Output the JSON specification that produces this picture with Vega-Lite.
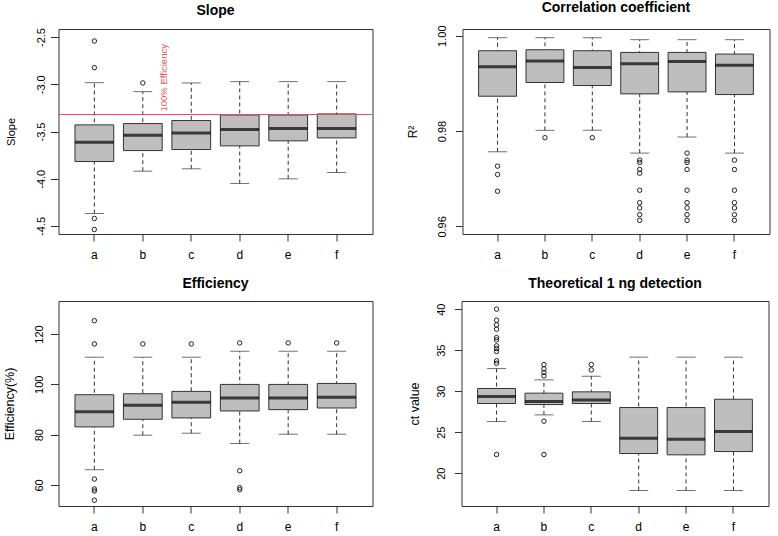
{
  "$schema": "https://vega.github.io/schema/vega-lite/v6.json",
  "background": "white",
  "padding": {"left": 2.5, "top": 0, "right": 5, "bottom": 5},
  "datasets": {
    "boxes": [
      {"panel": "slope", "group": "a", "lower": -4.368, "q1": -3.818, "median": -3.613, "q3": -3.430, "upper": -2.983},
      {"panel": "slope", "group": "b", "lower": -3.920, "q1": -3.702, "median": -3.539, "q3": -3.416, "upper": -3.078},
      {"panel": "slope", "group": "c", "lower": -3.895, "q1": -3.691, "median": -3.515, "q3": -3.384, "upper": -2.986},
      {"panel": "slope", "group": "d", "lower": -4.050, "q1": -3.652, "median": -3.480, "q3": -3.325, "upper": -2.972},
      {"panel": "slope", "group": "e", "lower": -4.001, "q1": -3.599, "median": -3.469, "q3": -3.325, "upper": -2.972},
      {"panel": "slope", "group": "f", "lower": -3.934, "q1": -3.568, "median": -3.469, "q3": -3.314, "upper": -2.972},
      {"panel": "corr", "group": "a", "lower": 0.97565, "q1": 0.98730, "median": 0.99347, "q3": 0.99684, "upper": 0.99958},
      {"panel": "corr", "group": "b", "lower": 0.98014, "q1": 0.99018, "median": 0.99467, "q3": 0.99705, "upper": 0.99958},
      {"panel": "corr", "group": "c", "lower": 0.98014, "q1": 0.98954, "median": 0.99333, "q3": 0.99684, "upper": 0.99958},
      {"panel": "corr", "group": "d", "lower": 0.97537, "q1": 0.98779, "median": 0.99411, "q3": 0.99649, "upper": 0.99916},
      {"panel": "corr", "group": "e", "lower": 0.97874, "q1": 0.98821, "median": 0.99460, "q3": 0.99649, "upper": 0.99916},
      {"panel": "corr", "group": "f", "lower": 0.97537, "q1": 0.98765, "median": 0.99382, "q3": 0.99614, "upper": 0.99916},
      {"panel": "eff", "group": "a", "lower": 66.06, "q1": 83.08, "median": 89.14, "q3": 95.87, "upper": 110.77},
      {"panel": "eff", "group": "b", "lower": 79.78, "q1": 86.11, "median": 91.65, "q3": 96.26, "upper": 110.77},
      {"panel": "eff", "group": "c", "lower": 80.57, "q1": 86.64, "median": 92.83, "q3": 97.19, "upper": 110.77},
      {"panel": "eff", "group": "d", "lower": 76.48, "q1": 89.41, "median": 94.55, "q3": 99.96, "upper": 113.14},
      {"panel": "eff", "group": "e", "lower": 80.17, "q1": 89.93, "median": 94.55, "q3": 99.96, "upper": 113.14},
      {"panel": "eff", "group": "f", "lower": 80.17, "q1": 90.59, "median": 94.81, "q3": 100.35, "upper": 113.14},
      {"panel": "ct", "group": "a", "lower": 26.30, "q1": 28.50, "median": 29.35, "q3": 30.33, "upper": 32.76},
      {"panel": "ct", "group": "b", "lower": 27.11, "q1": 28.37, "median": 28.74, "q3": 29.76, "upper": 31.38},
      {"panel": "ct", "group": "c", "lower": 26.30, "q1": 28.50, "median": 28.94, "q3": 29.92, "upper": 31.83},
      {"panel": "ct", "group": "d", "lower": 17.89, "q1": 22.40, "median": 24.27, "q3": 28.01, "upper": 34.15},
      {"panel": "ct", "group": "e", "lower": 17.89, "q1": 22.24, "median": 24.15, "q3": 28.01, "upper": 34.15},
      {"panel": "ct", "group": "f", "lower": 17.89, "q1": 22.64, "median": 25.08, "q3": 29.02, "upper": 34.15}
    ],
    "outliers": [
      {"panel": "slope", "group": "a", "value": -2.542},
      {"panel": "slope", "group": "a", "value": -2.824},
      {"panel": "slope", "group": "a", "value": -4.420},
      {"panel": "slope", "group": "a", "value": -4.537},
      {"panel": "slope", "group": "b", "value": -2.986},
      {"panel": "corr", "group": "a", "value": 0.97263},
      {"panel": "corr", "group": "a", "value": 0.97088},
      {"panel": "corr", "group": "a", "value": 0.96737},
      {"panel": "corr", "group": "b", "value": 0.97860},
      {"panel": "corr", "group": "c", "value": 0.97860},
      {"panel": "corr", "group": "d", "value": 0.97389},
      {"panel": "corr", "group": "d", "value": 0.97340},
      {"panel": "corr", "group": "d", "value": 0.97193},
      {"panel": "corr", "group": "d", "value": 0.97116},
      {"panel": "corr", "group": "d", "value": 0.96758},
      {"panel": "corr", "group": "d", "value": 0.96498},
      {"panel": "corr", "group": "d", "value": 0.96386},
      {"panel": "corr", "group": "d", "value": 0.96246},
      {"panel": "corr", "group": "d", "value": 0.96126},
      {"panel": "corr", "group": "e", "value": 0.97537},
      {"panel": "corr", "group": "e", "value": 0.97389},
      {"panel": "corr", "group": "e", "value": 0.97340},
      {"panel": "corr", "group": "e", "value": 0.97193},
      {"panel": "corr", "group": "e", "value": 0.96758},
      {"panel": "corr", "group": "e", "value": 0.96498},
      {"panel": "corr", "group": "e", "value": 0.96386},
      {"panel": "corr", "group": "e", "value": 0.96246},
      {"panel": "corr", "group": "e", "value": 0.96126},
      {"panel": "corr", "group": "f", "value": 0.97389},
      {"panel": "corr", "group": "f", "value": 0.97193},
      {"panel": "corr", "group": "f", "value": 0.96758},
      {"panel": "corr", "group": "f", "value": 0.96498},
      {"panel": "corr", "group": "f", "value": 0.96386},
      {"panel": "corr", "group": "f", "value": 0.96246},
      {"panel": "corr", "group": "f", "value": 0.96126},
      {"panel": "eff", "group": "a", "value": 125.27},
      {"panel": "eff", "group": "a", "value": 116.04},
      {"panel": "eff", "group": "a", "value": 62.37},
      {"panel": "eff", "group": "a", "value": 58.42},
      {"panel": "eff", "group": "a", "value": 57.62},
      {"panel": "eff", "group": "a", "value": 53.93},
      {"panel": "eff", "group": "b", "value": 116.04},
      {"panel": "eff", "group": "c", "value": 116.04},
      {"panel": "eff", "group": "d", "value": 116.44},
      {"panel": "eff", "group": "d", "value": 65.67},
      {"panel": "eff", "group": "d", "value": 58.94},
      {"panel": "eff", "group": "d", "value": 58.15},
      {"panel": "eff", "group": "e", "value": 116.44},
      {"panel": "eff", "group": "f", "value": 116.44},
      {"panel": "ct", "group": "a", "value": 40.0},
      {"panel": "ct", "group": "a", "value": 38.66},
      {"panel": "ct", "group": "a", "value": 38.09},
      {"panel": "ct", "group": "a", "value": 37.56},
      {"panel": "ct", "group": "a", "value": 36.54},
      {"panel": "ct", "group": "a", "value": 36.26},
      {"panel": "ct", "group": "a", "value": 35.53},
      {"panel": "ct", "group": "a", "value": 35.20},
      {"panel": "ct", "group": "a", "value": 34.84},
      {"panel": "ct", "group": "a", "value": 33.70},
      {"panel": "ct", "group": "a", "value": 33.41},
      {"panel": "ct", "group": "a", "value": 22.28},
      {"panel": "ct", "group": "b", "value": 33.25},
      {"panel": "ct", "group": "b", "value": 32.72},
      {"panel": "ct", "group": "b", "value": 32.28},
      {"panel": "ct", "group": "b", "value": 31.87},
      {"panel": "ct", "group": "b", "value": 26.34},
      {"panel": "ct", "group": "b", "value": 22.28},
      {"panel": "ct", "group": "c", "value": 33.25},
      {"panel": "ct", "group": "c", "value": 32.60}
    ],
    "refline": [{"slope": -3.32, "group": "b", "label": "100% Efficiency"}]
  },
  "spacing": 15,
  "vconcat": [
    {
      "spacing": 31,
      "hconcat": [
        {
          "title": "Slope",
          "width": 314, "height": 205,
          "layer": [
            {
              "data": {"name": "boxes"},
              "transform": [{"filter": "datum.panel === 'slope'"}],
              "encoding": {"x": {"field": "group", "type": "nominal", "scale": {"type": "band", "domain": ["a","b","c","d","e","f"], "paddingInner": 0.2, "paddingOuter": 0.34}, "axis": {"title": null, "labelAngle": 0, "tickSize": 7, "labelPadding": 8, "labelFontSize": 12, "domain": false, "grid": false}}},
              "layer": [
                {"mark": {"type": "rule", "strokeDash": [4, 3], "color": "#333", "strokeWidth": 1},
                 "encoding": {"y": {"field": "lower", "type": "quantitative", "title": "Slope", "scale": {"domain": [-4.585, -2.415], "nice": false, "zero": false}, "axis": {"values": [-4.5, -4, -3.5, -3, -2.5], "labelExpr": "datum.value < 0 ? '-' + format(-datum.value, '.1f') : format(datum.value, '.1f')", "labelAngle": -90, "labelAlign": "center", "labelBaseline": "bottom", "tickSize": 8, "labelPadding": 4.5, "minExtent": 25, "maxExtent": 25, "titlePadding": 17.5, "titleFontSize": 11, "domain": false, "grid": false}}, "y2": {"field": "upper"}}},
                {"mark": {"type": "tick", "size": 19, "thickness": 1, "color": "#333"},
                 "encoding": {"y": {"field": "lower", "type": "quantitative", "title": "Slope", "scale": {"domain": [-4.585, -2.415], "nice": false, "zero": false}}}},
                {"mark": {"type": "tick", "size": 19, "thickness": 1, "color": "#333"},
                 "encoding": {"y": {"field": "upper", "type": "quantitative", "title": "Slope", "scale": {"domain": [-4.585, -2.415], "nice": false, "zero": false}}}},
                {"mark": {"type": "bar", "fill": "#bebebe", "stroke": "#333", "strokeWidth": 1},
                 "encoding": {"y": {"field": "q1", "type": "quantitative", "title": "Slope", "scale": {"domain": [-4.585, -2.415], "nice": false, "zero": false}}, "y2": {"field": "q3"}}},
                {"mark": {"type": "tick", "size": 38.8, "thickness": 3, "color": "#000"},
                 "encoding": {"y": {"field": "median", "type": "quantitative", "title": "Slope", "scale": {"domain": [-4.585, -2.415], "nice": false, "zero": false}}}}
              ]
            },
            {
              "data": {"name": "outliers"},
              "transform": [{"filter": "datum.panel === 'slope'"}],
              "mark": {"type": "point", "filled": false, "size": 20, "color": "#222", "strokeWidth": 1, "opacity": 1},
              "encoding": {
                "x": {"field": "group", "type": "nominal", "scale": {"type": "band", "domain": ["a","b","c","d","e","f"], "paddingInner": 0.2, "paddingOuter": 0.34}},
                "y": {"field": "value", "type": "quantitative", "title": "Slope", "scale": {"domain": [-4.585, -2.415], "nice": false, "zero": false}}
              }
            },
            {
              "data": {"name": "refline"},
              "mark": {"type": "rule", "color": "#e0525a", "stroke": "#e0525a", "strokeWidth": 1.2, "opacity": 1},
              "encoding": {"y": {"field": "slope", "type": "quantitative", "title": "Slope", "scale": {"domain": [-4.585, -2.415], "nice": false, "zero": false}}}
            },
            {
              "data": {"name": "refline"},
              "mark": {"type": "text", "color": "#e0525a", "fontSize": 9.5, "angle": 270, "align": "left", "baseline": "middle", "dx": 3, "dy": 21},
              "encoding": {
                "x": {"field": "group", "type": "nominal", "scale": {"type": "band", "domain": ["a","b","c","d","e","f"], "paddingInner": 0.2, "paddingOuter": 0.34}},
                "y": {"field": "slope", "type": "quantitative", "title": "Slope", "scale": {"domain": [-4.585, -2.415], "nice": false, "zero": false}},
                "text": {"field": "label"}
              }
            }
          ]
        },
        {
          "title": "Correlation coefficient",
          "width": 307, "height": 205,
          "layer": [
            {
              "data": {"name": "boxes"},
              "transform": [{"filter": "datum.panel === 'corr'"}],
              "encoding": {"x": {"field": "group", "type": "nominal", "scale": {"type": "band", "domain": ["a","b","c","d","e","f"], "paddingInner": 0.2, "paddingOuter": 0.34}, "axis": {"title": null, "labelAngle": 0, "tickSize": 7, "labelPadding": 8, "labelFontSize": 12, "domain": false, "grid": false}}},
              "layer": [
                {"mark": {"type": "rule", "strokeDash": [4, 3], "color": "#333", "strokeWidth": 1},
                 "encoding": {"y": {"field": "lower", "type": "quantitative", "title": "R²", "scale": {"domain": [0.9584, 1.0014], "nice": false, "zero": false}, "axis": {"values": [0.96, 0.98, 1.0], "format": ".2f", "labelAngle": -90, "labelAlign": "center", "labelBaseline": "bottom", "tickSize": 7, "labelPadding": 7.7, "minExtent": 28, "maxExtent": 28, "titlePadding": 15.4, "titleFontSize": 12, "domain": false, "grid": false}}, "y2": {"field": "upper"}}},
                {"mark": {"type": "tick", "size": 19, "thickness": 1, "color": "#333"},
                 "encoding": {"y": {"field": "lower", "type": "quantitative", "title": "R²", "scale": {"domain": [0.9584, 1.0014], "nice": false, "zero": false}}}},
                {"mark": {"type": "tick", "size": 19, "thickness": 1, "color": "#333"},
                 "encoding": {"y": {"field": "upper", "type": "quantitative", "title": "R²", "scale": {"domain": [0.9584, 1.0014], "nice": false, "zero": false}}}},
                {"mark": {"type": "bar", "fill": "#bebebe", "stroke": "#333", "strokeWidth": 1},
                 "encoding": {"y": {"field": "q1", "type": "quantitative", "title": "R²", "scale": {"domain": [0.9584, 1.0014], "nice": false, "zero": false}}, "y2": {"field": "q3"}}},
                {"mark": {"type": "tick", "size": 37.9, "thickness": 3, "color": "#000"},
                 "encoding": {"y": {"field": "median", "type": "quantitative", "title": "R²", "scale": {"domain": [0.9584, 1.0014], "nice": false, "zero": false}}}}
              ]
            },
            {
              "data": {"name": "outliers"},
              "transform": [{"filter": "datum.panel === 'corr'"}],
              "mark": {"type": "point", "filled": false, "size": 20, "color": "#222", "strokeWidth": 1, "opacity": 1},
              "encoding": {
                "x": {"field": "group", "type": "nominal", "scale": {"type": "band", "domain": ["a","b","c","d","e","f"], "paddingInner": 0.2, "paddingOuter": 0.34}},
                "y": {"field": "value", "type": "quantitative", "title": "R²", "scale": {"domain": [0.9584, 1.0014], "nice": false, "zero": false}}
              }
            }
          ]
        }
      ]
    },
    {
      "spacing": 34,
      "hconcat": [
        {
          "title": "Efficiency",
          "width": 314, "height": 205,
          "layer": [
            {
              "data": {"name": "boxes"},
              "transform": [{"filter": "datum.panel === 'eff'"}],
              "encoding": {"x": {"field": "group", "type": "nominal", "scale": {"type": "band", "domain": ["a","b","c","d","e","f"], "paddingInner": 0.2, "paddingOuter": 0.34}, "axis": {"title": null, "labelAngle": 0, "tickSize": 7, "labelPadding": 8, "labelFontSize": 12, "domain": false, "grid": false}}},
              "layer": [
                {"mark": {"type": "rule", "strokeDash": [4, 3], "color": "#333", "strokeWidth": 1},
                 "encoding": {"y": {"field": "lower", "type": "quantitative", "title": "Efficiency(%)", "scale": {"domain": [51.65, 133.1], "nice": false, "zero": false}, "axis": {"values": [60, 80, 100, 120], "format": "d", "labelAngle": -90, "labelAlign": "center", "labelBaseline": "bottom", "tickSize": 8, "labelPadding": 6, "minExtent": 25, "maxExtent": 25, "titlePadding": 16.6, "titleFontSize": 12.5, "domain": false, "grid": false}}, "y2": {"field": "upper"}}},
                {"mark": {"type": "tick", "size": 19, "thickness": 1, "color": "#333"},
                 "encoding": {"y": {"field": "lower", "type": "quantitative", "title": "Efficiency(%)", "scale": {"domain": [51.65, 133.1], "nice": false, "zero": false}}}},
                {"mark": {"type": "tick", "size": 19, "thickness": 1, "color": "#333"},
                 "encoding": {"y": {"field": "upper", "type": "quantitative", "title": "Efficiency(%)", "scale": {"domain": [51.65, 133.1], "nice": false, "zero": false}}}},
                {"mark": {"type": "bar", "fill": "#bebebe", "stroke": "#333", "strokeWidth": 1},
                 "encoding": {"y": {"field": "q1", "type": "quantitative", "title": "Efficiency(%)", "scale": {"domain": [51.65, 133.1], "nice": false, "zero": false}}, "y2": {"field": "q3"}}},
                {"mark": {"type": "tick", "size": 38.8, "thickness": 3, "color": "#000"},
                 "encoding": {"y": {"field": "median", "type": "quantitative", "title": "Efficiency(%)", "scale": {"domain": [51.65, 133.1], "nice": false, "zero": false}}}}
              ]
            },
            {
              "data": {"name": "outliers"},
              "transform": [{"filter": "datum.panel === 'eff'"}],
              "mark": {"type": "point", "filled": false, "size": 20, "color": "#222", "strokeWidth": 1, "opacity": 1},
              "encoding": {
                "x": {"field": "group", "type": "nominal", "scale": {"type": "band", "domain": ["a","b","c","d","e","f"], "paddingInner": 0.2, "paddingOuter": 0.34}},
                "y": {"field": "value", "type": "quantitative", "title": "Efficiency(%)", "scale": {"domain": [51.65, 133.1], "nice": false, "zero": false}}
              }
            }
          ]
        },
        {
          "title": "Theoretical 1 ng detection",
          "width": 307, "height": 205,
          "layer": [
            {
              "data": {"name": "boxes"},
              "transform": [{"filter": "datum.panel === 'ct'"}],
              "encoding": {"x": {"field": "group", "type": "nominal", "scale": {"type": "band", "domain": ["a","b","c","d","e","f"], "paddingInner": 0.2, "paddingOuter": 0.34}, "axis": {"title": null, "labelAngle": 0, "tickSize": 7, "labelPadding": 8, "labelFontSize": 12, "domain": false, "grid": false}}},
              "layer": [
                {"mark": {"type": "rule", "strokeDash": [4, 3], "color": "#333", "strokeWidth": 1},
                 "encoding": {"y": {"field": "lower", "type": "quantitative", "title": "ct value", "scale": {"domain": [16.0, 41.0], "nice": false, "zero": false}, "axis": {"values": [20, 25, 30, 35, 40], "format": "d", "labelAngle": -90, "labelAlign": "center", "labelBaseline": "bottom", "tickSize": 7, "labelPadding": 7.7, "minExtent": 28, "maxExtent": 28, "titlePadding": 12, "titleFontSize": 12.5, "domain": false, "grid": false}}, "y2": {"field": "upper"}}},
                {"mark": {"type": "tick", "size": 19, "thickness": 1, "color": "#333"},
                 "encoding": {"y": {"field": "lower", "type": "quantitative", "title": "ct value", "scale": {"domain": [16.0, 41.0], "nice": false, "zero": false}}}},
                {"mark": {"type": "tick", "size": 19, "thickness": 1, "color": "#333"},
                 "encoding": {"y": {"field": "upper", "type": "quantitative", "title": "ct value", "scale": {"domain": [16.0, 41.0], "nice": false, "zero": false}}}},
                {"mark": {"type": "bar", "fill": "#bebebe", "stroke": "#333", "strokeWidth": 1},
                 "encoding": {"y": {"field": "q1", "type": "quantitative", "title": "ct value", "scale": {"domain": [16.0, 41.0], "nice": false, "zero": false}}, "y2": {"field": "q3"}}},
                {"mark": {"type": "tick", "size": 37.9, "thickness": 3, "color": "#000"},
                 "encoding": {"y": {"field": "median", "type": "quantitative", "title": "ct value", "scale": {"domain": [16.0, 41.0], "nice": false, "zero": false}}}}
              ]
            },
            {
              "data": {"name": "outliers"},
              "transform": [{"filter": "datum.panel === 'ct'"}],
              "mark": {"type": "point", "filled": false, "size": 20, "color": "#222", "strokeWidth": 1, "opacity": 1},
              "encoding": {
                "x": {"field": "group", "type": "nominal", "scale": {"type": "band", "domain": ["a","b","c","d","e","f"], "paddingInner": 0.2, "paddingOuter": 0.34}},
                "y": {"field": "value", "type": "quantitative", "title": "ct value", "scale": {"domain": [16.0, 41.0], "nice": false, "zero": false}}
              }
            }
          ]
        }
      ]
    }
  ],
  "config": {
    "font": "Liberation Sans",
    "view": {"stroke": "#333", "strokeWidth": 1},
    "axis": {"labelFont": "Liberation Sans", "titleFont": "Liberation Sans", "labelFontSize": 11, "titleFontSize": 11, "labelColor": "#000", "titleColor": "#000", "titleFontWeight": "normal", "tickColor": "#333", "domain": false, "grid": false},
    "title": {"font": "Liberation Sans", "fontSize": 14, "fontWeight": "bold", "color": "#000", "baseline": "alphabetic", "offset": 10, "anchor": "middle"}
  }
}
